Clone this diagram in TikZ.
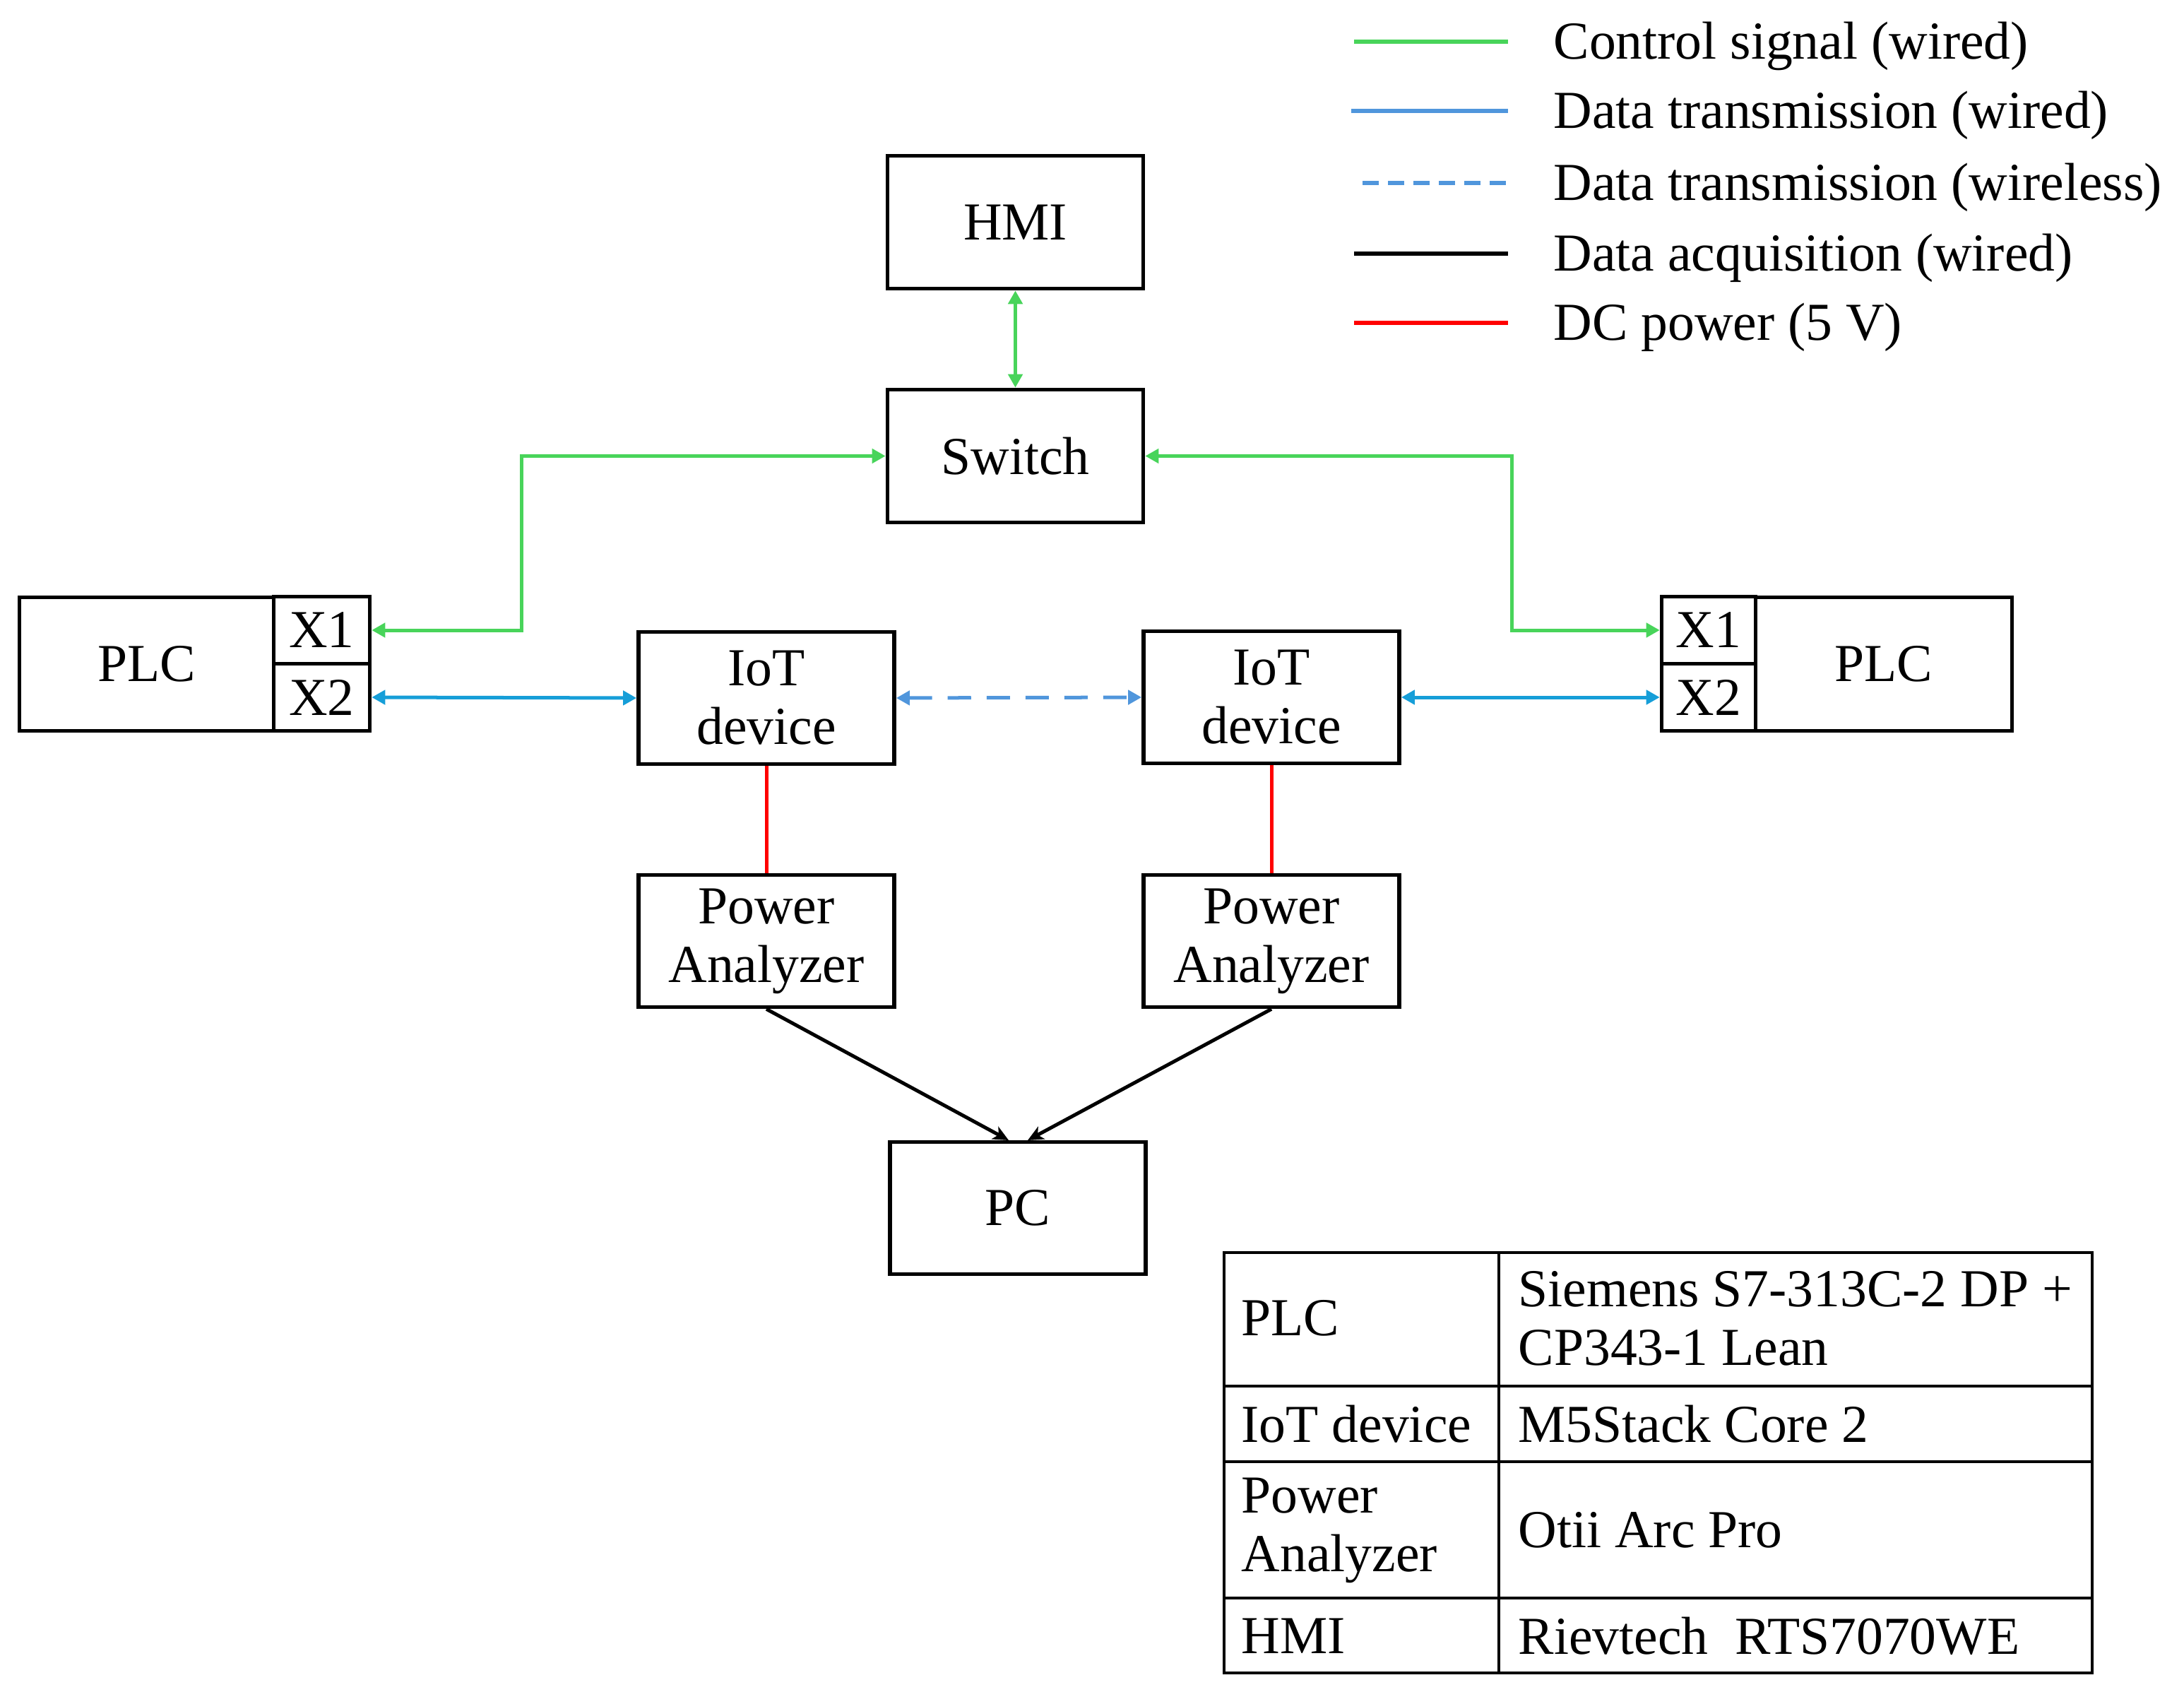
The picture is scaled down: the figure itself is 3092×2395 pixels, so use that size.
\documentclass[tikz,border=0pt]{standalone}
\usepackage{fontspec}
\setmainfont{Liberation Serif}
\usetikzlibrary{arrows.meta}
\definecolor{cgreen}{RGB}{72,212,90}
\definecolor{cwire}{RGB}{22,158,216}
\definecolor{cwless}{RGB}{80,150,220}
\definecolor{cred}{RGB}{255,0,0}
\newcommand{\dfont}{\fontsize{21.5}{23.6}\selectfont}
\begin{document}
\begin{tikzpicture}[x=0.01cm,y=-0.01cm, font=\dfont,
  box/.style={draw, line width=0.055cm, minimum width=3.62cm, minimum height=1.87cm, align=center, inner sep=0},
  cell/.style={draw, line width=0.055cm, minimum height=0.945cm, inner sep=0},
  tips/.style={{Triangle[length=0.19cm,width=0.2cm]}-{Triangle[length=0.19cm,width=0.2cm]}},
  ctrl/.style={draw=cgreen, line width=0.05cm, tips},
  wired/.style={draw=cwire, line width=0.05cm, tips},
  wless/.style={draw=cwless, line width=0.05cm, dash pattern=on 0.33cm off 0.22cm, tips},
  acq/.style={draw=black, line width=0.05cm, -{Stealth[length=0.22cm,width=0.2cm,inset=0.06cm]}},
  pwr/.style={draw=cred, line width=0.05cm},
  leg/.style={line width=0.055cm},
  legtext/.style={anchor=base west, inner sep=0},
  cellt/.style={anchor=west, inner sep=0, align=left}]
\useasboundingbox (0,0) rectangle (3092,2395);

% legend
\coordinate (l1a) at (1917,59);  \coordinate (l1b) at (2135,59);
\coordinate (l2a) at (1913,157); \coordinate (l2b) at (2135,157);
\coordinate (l3a) at (1929,259); \coordinate (l3b) at (2135,259);
\coordinate (l4a) at (1917,359); \coordinate (l4b) at (2135,359);
\coordinate (l5a) at (1917,457); \coordinate (l5b) at (2135,457);
\draw[leg, cgreen] (l1a) -- (l1b);
\draw[leg, cwless] (l2a) -- (l2b);
\draw[leg, cwless, dash pattern=on 0.23cm off 0.13cm] (l3a) -- (l3b);
\draw[leg, black] (l4a) -- (l4b);
\draw[leg, cred] (l5a) -- (l5b);
\node[legtext] (t1) at (2199,84) {Control signal (wired)};
\node[legtext] (t2) at (2199,182) {Data transmission (wired)};
\node[legtext] (t3) at (2199,284) {Data transmission (wireless)};
\node[legtext] (t4) at (2199,384) {Data acquisition (wired)};
\node[legtext] (t5) at (2199,482) {DC power (5 V)};

% boxes
\node[box, minimum height=1.88cm] (hmi) at (1437.5,314.5) {HMI};
\node[box, minimum height=1.88cm] (sw) at (1437.5,645.5) {Switch};
\node[box] (iotL) at (1085,988) {IoT\\device};
\node[box] (iotR) at (1800,987) {IoT\\device};
\node[box] (paL) at (1085,1332) {Power\\Analyzer};
\node[box] (paR) at (1800,1332) {Power\\Analyzer};
\node[box] (pc) at (1441,1710) {PC};

% left PLC
\node[draw, line width=0.055cm, minimum width=3.60cm, minimum height=1.89cm, inner sep=0] (plcL) at (207.5,940) {PLC};
\node[cell, minimum width=1.36cm] (x1L) at (455.5,892) {X1};
\node[cell, minimum width=1.36cm] (x2L) at (455.5,987) {X2};
% right PLC
\node[draw, line width=0.055cm, minimum width=3.63cm, minimum height=1.89cm, inner sep=0] (plcR) at (2667,940) {PLC};
\node[cell, minimum width=1.33cm] (x1R) at (2419,892) {X1};
\node[cell, minimum width=1.33cm] (x2R) at (2419,987) {X2};

% connectors
\coordinate (gL) at (738,645.5);
\coordinate (gR) at (2140,645.5);
\draw[ctrl] (hmi.south) -- (sw.north);
\draw[ctrl] (x1L.east) -| (gL) -- (sw.west);
\draw[ctrl] (sw.east) -- (gR) |- (x1R.west);
\draw[wired] (x2L.east) -- (iotL.west);
\draw[wired] (iotR.east) -- (x2R.west);
\draw[wless] (iotL.east) -- (iotR.west);
\draw[pwr] (iotL.south) -- (paL.north);
\draw[pwr] (iotR.south) -- (paR.north);
\coordinate (pcinL) at (1428,1614);
\coordinate (pcinR) at (1455,1614);
\draw[acq] (paL.south) -- (pcinL);
\draw[acq] (paR.south) -- (pcinR);

% table
\coordinate (tbTL) at (1733,1773);
\coordinate (tbBR) at (2962,2368);
\draw[line width=0.045cm] (tbTL) rectangle (tbBR);
\draw[line width=0.045cm] (2122,1773) -- (2122,2368);
\draw[line width=0.045cm] (1733,1962) -- (2962,1962);
\draw[line width=0.045cm] (1733,2069) -- (2962,2069);
\draw[line width=0.045cm] (1733,2262) -- (2962,2262);
\node[cellt] (tp1) at (1757,1866) {PLC};
\node[cellt] (tp2) at (2149,1866) {Siemens S7-313C-2 DP +\\CP343-1 Lean};
\node[cellt] (ti1) at (1757,2016) {IoT device};
\node[cellt] (ti2) at (2149,2016) {M5Stack Core 2};
\node[cellt] (tw1) at (1757,2166) {Power\\Analyzer};
\node[cellt] (tw2) at (2149,2166) {Otii Arc Pro};
\node[cellt] (th1) at (1757,2316) {HMI};
\node[cellt] (th2) at (2149,2316) {Rievtech\ \ RTS7070WE};
\end{tikzpicture}
\end{document}
